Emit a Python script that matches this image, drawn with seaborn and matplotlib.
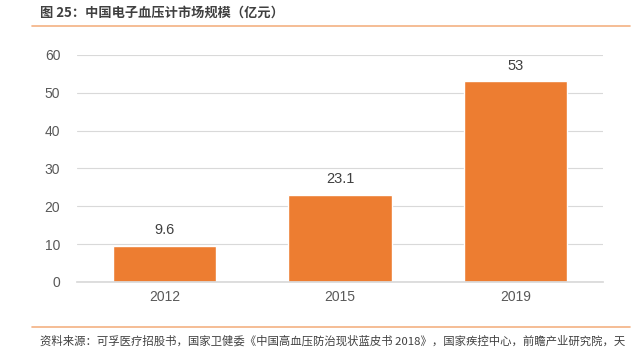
import matplotlib
matplotlib.use("Agg")
import matplotlib.pyplot as plt
import seaborn as sns
import pandas as pd
from matplotlib.lines import Line2D

years = ["2012", "2015", "2019"]
values = [9.6, 23.1, 53]
yticks = [0, 10, 20, 30, 40, 50, 60]
title = "图 25：中国电子血压计市场规模（亿元）"
source = "资料来源：可孚医疗招股书，国家卫健委《中国高血压防治现状蓝皮书 2018》，国家疾控中心，前瞻产业研究院，天"

sns.set_theme(style="white")
plt.rcParams['font.family'] = ['Noto Sans CJK SC', 'DejaVu Sans']

df = pd.DataFrame({"year": years, "value": values})

fig = plt.figure(figsize=(6.36, 3.59), dpi=100)
ax = fig.add_axes([0.121, 0.2145, 0.827, 0.6323])
sns.barplot(data=df, x="year", y="value", color="#ED7D31", width=0.59, ax=ax, saturation=1)

ax.set_ylim(0, 60)
ax.set_yticks(yticks)
ax.yaxis.grid(True, color="#D9D9D9", linewidth=0.8)
ax.set_axisbelow(True)
for s in ["top", "right", "left"]:
    ax.spines[s].set_visible(False)
ax.spines["bottom"].set_color("#D9D9D9")
ax.set_xlabel("")
ax.set_ylabel("")
ax.tick_params(axis="both", length=0, labelsize=10, labelcolor="#595959")
ax.tick_params(axis="y", pad=12)
ax.tick_params(axis="x", pad=6)
for lab in ax.get_xticklabels() + ax.get_yticklabels():
    lab.set_family(["Liberation Sans", "DejaVu Sans"])

for i, v in enumerate(values):
    ax.text(i, v + 2.2, f"{v:g}", ha="center", va="bottom", fontsize=10.5,
            color="#404040", family=["Liberation Sans", "DejaVu Sans"])

fig.text(40/636, 1 - 13/359, title, fontsize=9.5, fontweight="bold", color="#404040", va="center", ha="left")
fig.add_artist(Line2D([32/636, 630/636], [1 - 26/359, 1 - 26/359], color="#F4B183", linewidth=1.2))
fig.add_artist(Line2D([32/636, 630/636], [1 - 327/359, 1 - 327/359], color="#F4B183", linewidth=1.2))
fig.text(40/636, 1 - 341/359, source, fontsize=8.2, color="#404040", va="center", ha="left")

fig.savefig("out.png", dpi=100)
